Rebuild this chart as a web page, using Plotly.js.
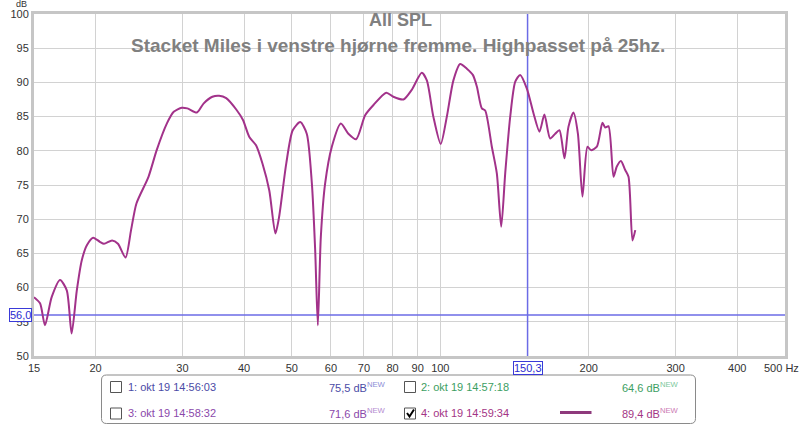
<!DOCTYPE html>
<html><head><meta charset="utf-8">
<script src="https://cdn.plot.ly/plotly-3.0.1.min.js"></script>
<style>html,body{margin:0;padding:0;background:#fff}</style>
</head><body><div id="chart" style="width:800px;height:426px"></div>
<script>
// ---- data ----
const freqHz = [15, 15.43, 15.79, 16.29, 16.94, 17.48, 17.88, 18.32, 18.75, 19.2, 19.77, 20.4, 20.8, 21.6, 22.2, 23.0, 23.6, 24.2, 25.6, 26.6, 27.9, 28.8, 29.9, 30.7, 32.1, 33.1, 34.5, 35.6, 36.8, 38.6, 39.8, 41.0, 42.3, 43.6, 45.0, 46.3, 47.1, 48.7, 50.2, 52.0, 53.6, 54.9, 55.75, 56.45, 57.24, 58.4, 60.26, 62.84, 65.1, 67.5, 70.4, 73.2, 77.7, 80.3, 84.2, 87.5, 91.7, 93.9, 96.8, 100.2, 103.1, 106.3, 109.7, 113.2, 116.4, 118.6, 121.4, 123.3, 127.2, 130.2, 132.9, 135.4, 138.6, 141.9, 145.2, 149.8, 154.5, 158.9, 162.6, 167.0, 171.0, 174.4, 178.6, 181.9, 186.2, 190.1, 194.2, 198.8, 202.0, 207.7, 213.2, 215.9, 219.3, 224.5, 228.0, 232.4, 237.1, 240.8, 245.3, 248.5];
const splDb = [58.6, 57.7, 54.5, 58.6, 61.1, 59.6, 53.3, 59.6, 64.0, 66.2, 67.3, 66.7, 66.4, 66.9, 66.4, 64.4, 68.4, 72.3, 76.2, 80.1, 84.0, 85.7, 86.3, 86.2, 85.6, 86.9, 87.9, 88.05, 87.7, 86.0, 84.5, 82.0, 80.8, 78.1, 74.2, 67.9, 70.3, 78.1, 83.0, 84.2, 82.5, 75.2, 65.5, 54.5, 67.4, 75.2, 80.6, 84.0, 82.5, 81.7, 85.2, 86.7, 88.5, 87.9, 87.5, 88.9, 91.4, 90.3, 85.0, 81.0, 85.0, 90.3, 92.7, 92.0, 91.1, 89.4, 86.2, 85.9, 80.6, 76.7, 68.9, 76.7, 85.0, 90.1, 91.1, 89.1, 85.5, 82.8, 85.3, 81.8, 82.5, 83.0, 78.9, 83.5, 85.6, 82.5, 73.3, 80.6, 80.1, 80.6, 84.1, 83.4, 83.6, 76.2, 77.7, 78.5, 77.2, 76.2, 66.9, 68.4];
const xTickVals = [15, 20, 30, 40, 50, 60, 70, 80, 90, 100, 200, 300, 400, 500];
const xTickText = ['15', '20', '30', '40', '50', '60', '70', '80', '90', '100', '200', '300', '400', ''];
const xEndLabel = '500 Hz';
const yTickVals = [50, 55, 60, 65, 70, 75, 80, 85, 90, 95, 100];
const xRangeHz = [15, 500];
const yRangeDb = [50, 100];
const cursorFreq = 150.3;
const cursorDb = 56.0;
const cursorFreqText = '150,3';
const cursorDbText = '56,0';
const titleLines = ['All SPL', 'Stacket Miles i venstre hjørne fremme. Highpasset på 25hz.'];
const legendNames = ['1: okt 19 14:56:03', '2: okt 19 14:57:18', '3: okt 19 14:58:32', '4: okt 19 14:59:34'];
const legendValues = ['75,5 dB', '64,6 dB', '71,6 dB', '89,4 dB'];
const legendChecked = [false, false, false, true];

// ---- styling / geometry ----
const FONT = 'Liberation Sans, Arial, sans-serif';
const curveColor = '#a2328a';
const cursorColor = '#6b6be6';
const entryColors = ['#4b4ba6', '#3c9e62', '#8a48aa', '#a33585'];
const newColors = ['#8c8cd6', '#7cc89c', '#b48ad0', '#cc7ab4'];
const L = 34, T = 14, W = 751, H = 342;
const px = X => (X - L) / W;
const py = Y => (T + H - Y) / H;
const P = (X, Y) => px(X) + ',' + py(Y);

const shapes = [];
const annotations = [];

// titles
annotations.push({xref: 'paper', yref: 'paper', x: px(400), y: py(20), xanchor: 'center', yanchor: 'middle', showarrow: false,
  text: '<b>' + titleLines[0] + '</b>', font: {family: FONT, size: 18, color: '#808080'}});
annotations.push({xref: 'paper', yref: 'paper', x: px(398), y: py(45), xanchor: 'center', yanchor: 'middle', showarrow: false,
  text: '<b>' + titleLines[1] + '</b>', font: {family: FONT, size: 19, color: '#808080'}});
// dB unit label
annotations.push({xref: 'paper', yref: 'paper', x: px(21), y: py(4), xanchor: 'center', yanchor: 'middle', showarrow: false,
  text: 'dB', font: {family: FONT, size: 9, color: '#333'}});
// end label of the x axis
annotations.push({xref: 'paper', yref: 'paper', x: px(800), y: py(368), xanchor: 'right', yanchor: 'middle', showarrow: false,
  text: xEndLabel, font: {family: FONT, size: 11, color: '#333'}, borderpad: 0});
// cursor labels
annotations.push({xref: 'paper', yref: 'y', x: px(20), y: cursorDb, xanchor: 'center', yanchor: 'middle', showarrow: false,
  text: cursorDbText, font: {family: FONT, size: 11, color: '#2b2bd0'}, bgcolor: '#fff', bordercolor: '#3a3ad8', borderwidth: 1, borderpad: 0});
annotations.push({xref: 'paper', yref: 'paper', x: px(527.5), y: py(367.5), xanchor: 'center', yanchor: 'middle', showarrow: false,
  text: cursorFreqText, font: {family: FONT, size: 11, color: '#2b2bd0'}, bgcolor: '#fff', bordercolor: '#3a3ad8', borderwidth: 1, borderpad: 0});

// legend box (rounded)
(function () {
  const x0 = 101.5, x1 = 695.5, y0 = 375, y1 = 423.5, r = 5;
  shapes.push({type: 'path', xref: 'paper', yref: 'paper', line: {color: '#8a8a8a', width: 1}, fillcolor: 'rgba(0,0,0,0)',
    path: 'M ' + P(x0 + r, y0) + ' L ' + P(x1 - r, y0) + ' Q ' + P(x1, y0) + ' ' + P(x1, y0 + r) +
      ' L ' + P(x1, y1 - r) + ' Q ' + P(x1, y1) + ' ' + P(x1 - r, y1) +
      ' L ' + P(x0 + r, y1) + ' Q ' + P(x0, y1) + ' ' + P(x0, y1 - r) +
      ' L ' + P(x0, y0 + r) + ' Q ' + P(x0, y0) + ' ' + P(x0 + r, y0) + ' Z'});
})();
const colBox = [110.5, 404.5], colText = [126, 419], colVal = [327, 620];
const rowMid = [387, 413.5];
legendNames.forEach((name, i) => {
  const c = i % 2, rI = Math.floor(i / 2);
  const cy = rowMid[rI];
  shapes.push({type: 'rect', xref: 'paper', yref: 'paper', x0: px(colBox[c]), x1: px(colBox[c] + 11), y0: py(cy - 5.5), y1: py(cy + 5.5),
    line: {color: '#555', width: 1}, fillcolor: '#fff'});
  if (legendChecked[i]) {
    const bx = colBox[c];
    shapes.push({type: 'path', xref: 'paper', yref: 'paper', line: {color: '#000', width: 2},
      path: 'M ' + P(bx + 2.5, cy - 0.5) + ' L ' + P(bx + 5, cy + 3) + ' L ' + P(bx + 9.5, cy - 4)});
    shapes.push({type: 'line', xref: 'paper', yref: 'paper', x0: px(560), x1: px(591.5), y0: py(cy - 1), y1: py(cy - 1),
      line: {color: '#8e3a7c', width: 3}});
  }
  annotations.push({xref: 'paper', yref: 'paper', x: px(colText[c]), y: py(cy), xanchor: 'left', yanchor: 'middle', showarrow: false,
    text: name, font: {family: FONT, size: 11, color: entryColors[i]}});
  annotations.push({xref: 'paper', yref: 'paper', x: px(colVal[c]), y: py(cy), xanchor: 'left', yanchor: 'middle', showarrow: false,
    text: legendValues[i] + '<sup><span style="color:' + newColors[i] + '">NEW</span></sup>', font: {family: FONT, size: 11, color: entryColors[i]}});
});

const traces = [
  {x: [cursorFreq, cursorFreq], y: yRangeDb, mode: 'lines', line: {color: cursorColor, width: 1.5}, hoverinfo: 'skip'},
  {x: xRangeHz, y: [cursorDb, cursorDb], mode: 'lines', line: {color: cursorColor, width: 1.5}, hoverinfo: 'skip'},
  {x: freqHz, y: splDb, mode: 'lines', line: {color: curveColor, width: 2, shape: 'spline', smoothing: 0.7}, hoverinfo: 'skip'}
];

const layout = {
  width: 800, height: 426,
  margin: {l: 34, r: 15, t: 14, b: 70, pad: 0},
  paper_bgcolor: '#fff', plot_bgcolor: '#fff',
  showlegend: false,
  font: {family: FONT, size: 11, color: '#333'},
  xaxis: {type: 'log', range: [Math.log10(xRangeHz[0]), Math.log10(xRangeHz[1])], tickmode: 'array', tickvals: xTickVals, ticktext: xTickText,
    showgrid: true, gridcolor: '#d2d2d2', gridwidth: 1, zeroline: false, showline: true, mirror: true, linecolor: '#c6c6c6', linewidth: 3,
    ticks: '', tickfont: {family: FONT, size: 11, color: '#333'}, fixedrange: true},
  yaxis: {range: yRangeDb, tickmode: 'array', tickvals: yTickVals, showgrid: true, gridcolor: '#d2d2d2', gridwidth: 1, zeroline: false,
    showline: true, mirror: true, linecolor: '#c6c6c6', linewidth: 3, ticks: '', tickfont: {family: FONT, size: 11, color: '#333'}, fixedrange: true},
  shapes: shapes,
  annotations: annotations
};
Plotly.newPlot('chart', traces, layout, {displayModeBar: false, staticPlot: true});
</script></body></html>
